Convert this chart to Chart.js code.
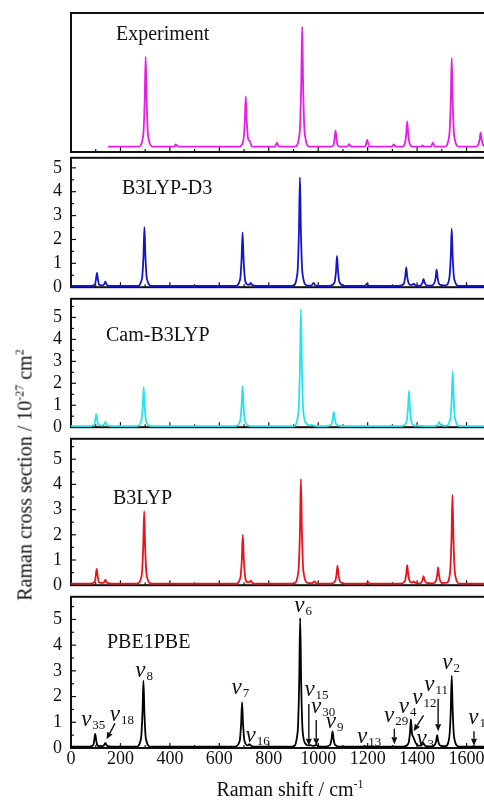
<!DOCTYPE html>
<html>
<head>
<meta charset="utf-8">
<script src="https://cdn.jsdelivr.net/npm/chart.js@4.4.0/dist/chart.umd.min.js"></script>
<style>
  html, body { margin: 0; padding: 0; background: #fff; overflow: hidden; }
  #wrap { position: relative; width: 484px; height: 803px; overflow: hidden; }
  canvas { position: absolute; left: 0; }
  .title { position: absolute; font-family: "Liberation Serif", "Times New Roman", serif; font-size: 20px; color: #111; white-space: nowrap; }
  .title sup { font-size: 12px; vertical-align: 8px; line-height: 0; }
  #ytitle { left: 25px; top: 475px; transform: translate(-50%, -50%) rotate(-90deg); }
  #xtitle { left: 290px; top: 789px; transform: translate(-50%, -50%); }
</style>
</head>
<body>
<div id="wrap">
  <canvas id="p0"></canvas>
  <canvas id="p1"></canvas>
  <canvas id="p2"></canvas>
  <canvas id="p3"></canvas>
  <canvas id="p4"></canvas>
  <div class="title" id="ytitle">Raman cross section / 10<sup>-27</sup> cm<sup>2</sup></div>
  <div class="title" id="xtitle">Raman shift / cm<sup>-1</sup></div>
</div>
<script>
// axis ticks
const xTickLabels = [0, 200, 400, 600, 800, 1000, 1200, 1400, 1600];
const xTicks = [0, 200, 400, 600, 800, 1000, 1200, 1400, 1600, 1800];
const xMinorTicks = [100, 300, 500, 700, 900, 1100, 1300, 1500, 1700];
const yTicks = [0, 1, 2, 3, 4, 5];
const yMinorTicks = [0.5, 1.5, 2.5, 3.5, 4.5, 5.5];

// Experiment (arbitrary units, no scale shown)
const expShift = [150,
  272, 292, 298, 302, 306, 312, 332,
  416, 424, 432,
  677, 697, 703, 707, 711, 717, 722, 732,
  825, 833, 841,
  905, 925, 931, 935, 939, 945, 965,
  1052, 1062, 1066, 1070, 1074, 1078, 1088,
  1117, 1125, 1133,
  1190, 1198, 1206,
  1298, 1306, 1314,
  1340, 1350, 1356, 1360, 1364, 1370, 1382,
  1416, 1422, 1428,
  1456, 1464, 1472,
  1510, 1530, 1536, 1540, 1544, 1550, 1570,
  1637, 1647, 1653, 1657, 1661, 1667, 1680,
  1800];
const expCross = [0,
  0, 0.09, 0.375, 0.75, 0.375, 0.09, 0,
  0, 0.02, 0,
  0, 0.05, 0.21, 0.42, 0.21, 0.06, 0.05, 0,
  0, 0.033, 0,
  0, 0.12, 0.5, 1.0, 0.5, 0.12, 0,
  0, 0.016, 0.066, 0.133, 0.066, 0.016, 0,
  0, 0.022, 0,
  0, 0.056, 0,
  0, 0.02, 0,
  0, 0.025, 0.105, 0.21, 0.105, 0.025, 0,
  0, 0.01, 0,
  0, 0.033, 0,
  0, 0.09, 0.37, 0.74, 0.37, 0.09, 0,
  0, 0.015, 0.06, 0.12, 0.06, 0.015, 0,
  0];

// B3LYP-D3
const d3Shift = [0,
  80, 97, 101, 105, 109, 113, 122,
  131, 135, 139, 143, 149, 165,
  267, 287, 293, 297, 301, 307, 327,
  664, 684, 690, 694, 698, 704, 712,
  721, 727, 733, 750,
  896, 916, 922, 926, 930, 936, 956,
  973, 981, 989, 1000,
  1046, 1066, 1072, 1076, 1080, 1086, 1106,
  1189, 1197, 1205,
  1326, 1346, 1352, 1356, 1360, 1366, 1376,
  1382, 1386, 1392, 1402,
  1414, 1422, 1426, 1430, 1438,
  1455, 1469, 1475, 1479, 1483, 1489, 1500,
  1515, 1530, 1536, 1540, 1544, 1550, 1570,
  1800];
const d3Cross = [0.05,
  0.05, 0.12, 0.33, 0.6, 0.33, 0.12, 0.08,
  0.09, 0.14, 0.23, 0.14, 0.07, 0.05,
  0.05, 0.35, 1.28, 2.51, 1.28, 0.35, 0.05,
  0.05, 0.32, 1.18, 2.3, 1.18, 0.32, 0.12,
  0.1, 0.18, 0.09, 0.05,
  0.05, 0.6, 2.33, 4.6, 2.33, 0.6, 0.07,
  0.07, 0.18, 0.07, 0.05,
  0.05, 0.2, 0.68, 1.31, 0.68, 0.2, 0.05,
  0.05, 0.15, 0.05,
  0.05, 0.14, 0.44, 0.83, 0.44, 0.16, 0.09,
  0.11, 0.15, 0.09, 0.06,
  0.07, 0.2, 0.35, 0.2, 0.08,
  0.06, 0.16, 0.39, 0.73, 0.39, 0.14, 0.08,
  0.08, 0.35, 1.25, 2.45, 1.25, 0.35, 0.05,
  0.05];

// Cam-B3LYP
const camShift = [0,
  77, 94, 98, 102, 106, 110, 120,
  131, 135, 139, 143, 149, 165,
  264, 284, 290, 294, 298, 304, 324,
  664, 684, 690, 694, 698, 704, 724,
  900, 920, 926, 930, 934, 940, 955,
  966, 974, 982, 995,
  1033, 1053, 1059, 1063, 1067, 1073, 1093,
  1337, 1357, 1363, 1367, 1371, 1377, 1390,
  1394, 1400, 1406,
  1470, 1481, 1485, 1489, 1493, 1499,
  1514, 1534, 1540, 1544, 1548, 1554, 1574,
  1800];
const camCross = [0.05,
  0.05, 0.12, 0.33, 0.61, 0.33, 0.12, 0.08,
  0.09, 0.15, 0.24, 0.15, 0.07, 0.05,
  0.05, 0.26, 0.94, 1.83, 0.94, 0.26, 0.05,
  0.05, 0.27, 0.97, 1.88, 0.97, 0.27, 0.05,
  0.05, 0.69, 2.71, 5.37, 2.71, 0.69, 0.13,
  0.08, 0.11, 0.07, 0.05,
  0.05, 0.13, 0.38, 0.7, 0.38, 0.13, 0.05,
  0.05, 0.24, 0.85, 1.65, 0.85, 0.24, 0.07,
  0.06, 0.08, 0.06,
  0.05, 0.09, 0.15, 0.24, 0.15, 0.08,
  0.06, 0.35, 1.3, 2.55, 1.3, 0.35, 0.05,
  0.05];

// B3LYP
const b3Shift = [0,
  79, 96, 100, 104, 108, 112, 121,
  131, 135, 139, 143, 149, 165,
  266, 286, 292, 296, 300, 306, 326,
  665, 685, 691, 695, 699, 705, 713,
  721, 727, 733, 750,
  900, 920, 926, 930, 934, 940, 960,
  976, 984, 992, 1002,
  1048, 1068, 1074, 1078, 1082, 1088, 1108,
  1193, 1201, 1209,
  1330, 1350, 1356, 1360, 1364, 1370, 1378,
  1382, 1386, 1392, 1404,
  1414, 1422, 1426, 1430, 1438,
  1460, 1475, 1481, 1485, 1489, 1495, 1506,
  1518, 1533, 1539, 1543, 1547, 1553, 1573,
  1800];
const b3Cross = [0.06,
  0.06, 0.13, 0.36, 0.65, 0.36, 0.13, 0.09,
  0.09, 0.14, 0.22, 0.14, 0.08, 0.06,
  0.06, 0.4, 1.5, 2.94, 1.5, 0.4, 0.06,
  0.06, 0.29, 1.03, 2.01, 1.03, 0.29, 0.12,
  0.11, 0.18, 0.1, 0.06,
  0.06, 0.56, 2.13, 4.21, 2.13, 0.56, 0.08,
  0.08, 0.15, 0.08, 0.06,
  0.06, 0.15, 0.42, 0.78, 0.42, 0.15, 0.06,
  0.06, 0.12, 0.06,
  0.06, 0.15, 0.43, 0.8, 0.43, 0.16, 0.1,
  0.12, 0.15, 0.1, 0.07,
  0.08, 0.21, 0.36, 0.21, 0.09,
  0.07, 0.15, 0.38, 0.71, 0.38, 0.14, 0.09,
  0.09, 0.48, 1.82, 3.58, 1.82, 0.48, 0.06,
  0.06];

// PBE1PBE
const pbeShift = [0,
  73, 90, 94, 98, 102, 106, 116,
  131, 135, 139, 143, 149, 165,
  263, 283, 289, 293, 297, 303, 323,
  662, 682, 688, 692, 696, 702, 712,
  716, 722, 728, 745,
  897, 917, 923, 927, 931, 937, 950,
  960, 968, 978,
  986, 992, 1000,
  1028, 1048, 1054, 1058, 1062, 1068, 1088,
  1180, 1188, 1196,
  1302, 1308, 1314,
  1345, 1365, 1371, 1375, 1379, 1386, 1394, 1404,
  1416, 1420, 1424, 1428, 1436,
  1456, 1471, 1477, 1481, 1485, 1491, 1505,
  1515, 1530, 1536, 1540, 1544, 1550, 1570,
  1622, 1630, 1638,
  1800];
const pbeCross = [0.05,
  0.05, 0.11, 0.3, 0.55, 0.3, 0.11, 0.07,
  0.08, 0.13, 0.2, 0.13, 0.07, 0.05,
  0.05, 0.36, 1.34, 2.62, 1.34, 0.36, 0.05,
  0.05, 0.26, 0.92, 1.78, 0.92, 0.26, 0.11,
  0.1, 0.15, 0.09, 0.05,
  0.05, 0.65, 2.55, 5.05, 2.55, 0.65, 0.15,
  0.1, 0.11, 0.08,
  0.09, 0.12, 0.06,
  0.05, 0.12, 0.35, 0.65, 0.35, 0.12, 0.05,
  0.05, 0.08, 0.05,
  0.05, 0.06, 0.05,
  0.05, 0.18, 0.58, 1.11, 0.6, 0.4, 0.2, 0.09,
  0.09, 0.14, 0.22, 0.14, 0.07,
  0.06, 0.11, 0.27, 0.5, 0.27, 0.11, 0.07,
  0.07, 0.4, 1.42, 2.8, 1.42, 0.4, 0.05,
  0.05, 0.07, 0.05,
  0.05];

// mode labels on the PBE1PBE panel (label centre, in data units)
const modeSub = ['35', '18', '8', '7', '16', '6', '15', '30', '9', '13', '29', '4', '12', '3', '11', '2', '10'];
const modeX = [90, 206, 296, 685, 755, 939, 993, 1020, 1066, 1206, 1315, 1362, 1429, 1433, 1477, 1538, 1656];
const modeY = [1.01, 1.21, 2.9, 2.27, 0.37, 5.46, 2.19, 1.52, 0.95, 0.35, 1.15, 1.52, 1.87, 0.27, 2.37, 3.24, 1.09];

// arrows on the PBE1PBE panel (tail -> head)
const arrowFromX = [178, 962, 992, 1308, 1426, 1485, 1630];
const arrowFromY = [0.96, 1.71, 1.09, 0.75, 1.27, 1.92, 0.65];
const arrowToX = [144, 962, 992, 1308, 1386, 1485, 1630];
const arrowToY = [0.34, 0.09, 0.1, 0.15, 0.65, 0.65, 0.09];

const SERIF = '"Liberation Serif", "Times New Roman", serif';
Chart.defaults.font.family = SERIF;
Chart.defaults.font.size = 18;
Chart.defaults.color = '#111';

const PAD = 14;
const PLOT_LEFT = 71;
const CANVAS_W = 516;

const panels = [
  { id: 'p0', top: 13, bottom: 152, yMin: -0.044, yMax: 1.114, shift: expShift, cross: expCross,
    color: '#e41ee4', name: 'Experiment', nameAt: [45, 22], showY: false },
  { id: 'p1', top: 152, bottom: 293, yMin: 0, yMax: 5.42, shift: d3Shift, cross: d3Cross,
    color: '#1414c8', name: 'B3LYP-D3', nameAt: [51, 31], showY: true },
  { id: 'p2', top: 293, bottom: 433, yMin: 0, yMax: 5.85, shift: camShift, cross: camCross,
    color: '#26e2ec', name: 'Cam-B3LYP', nameAt: [35, 37], showY: true },
  { id: 'p3', top: 433, bottom: 591, yMin: 0, yMax: 5.81, shift: b3Shift, cross: b3Cross,
    color: '#e8141c', name: 'B3LYP', nameAt: [42, 60], showY: true },
  { id: 'p4', top: 591, bottom: 748, yMin: 0, yMax: 5.88, shift: pbeShift, cross: pbeCross,
    color: '#000000', name: 'PBE1PBE', nameAt: [36, 46], showY: true, modes: true }
];

function drawNu(ctx, cx, cy, sub) {
  ctx.font = 'italic 23px ' + SERIF;
  const w1 = ctx.measureText('\u03bd').width;
  ctx.font = '13px ' + SERIF;
  const w2 = ctx.measureText(sub).width;
  const x0 = cx - (w1 + w2 + 1) / 2;
  ctx.textAlign = 'left';
  ctx.textBaseline = 'alphabetic';
  ctx.font = 'italic 23px ' + SERIF;
  ctx.fillText('\u03bd', x0, cy + 4);
  ctx.font = '13px ' + SERIF;
  ctx.fillText(sub, x0 + w1 + 1, cy + 7);
}

function drawArrow(ctx, x1, y1, x2, y2) {
  const ang = Math.atan2(y2 - y1, x2 - x1);
  const hl = 7, hw = 3;
  ctx.beginPath();
  ctx.moveTo(x1, y1);
  ctx.lineTo(x2 - hl * Math.cos(ang), y2 - hl * Math.sin(ang));
  ctx.stroke();
  ctx.beginPath();
  ctx.moveTo(x2, y2);
  ctx.lineTo(x2 - hl * Math.cos(ang) + hw * Math.sin(ang), y2 - hl * Math.sin(ang) - hw * Math.cos(ang));
  ctx.lineTo(x2 - hl * Math.cos(ang) - hw * Math.sin(ang), y2 - hl * Math.sin(ang) + hw * Math.cos(ang));
  ctx.closePath();
  ctx.fill();
}

// frame, inward ticks and panel texts
const panelDecor = {
  id: 'panelDecor',
  beforeDatasetsDraw(chart, args, opts) {
    const { ctx, chartArea: a, scales: { x, y } } = chart;
    ctx.save();
    ctx.strokeStyle = '#111';
    ctx.lineWidth = 1.2;
    const tick = (x1, y1, x2, y2) => { ctx.beginPath(); ctx.moveTo(x1, y1); ctx.lineTo(x2, y2); ctx.stroke(); };
    xTicks.forEach(v => { const px = x.getPixelForValue(v); tick(px, a.bottom, px, a.bottom - 5); });
    xMinorTicks.forEach(v => { const px = x.getPixelForValue(v); tick(px, a.bottom, px, a.bottom - 3); });
    if (opts.showY) {
      yTicks.forEach(v => { const py = y.getPixelForValue(v); tick(a.left, py, a.left + 5, py); });
      yMinorTicks.filter(v => v < y.max).forEach(v => { const py = y.getPixelForValue(v); tick(a.left, py, a.left + 3, py); });
    }
    ctx.lineWidth = 2;
    ctx.strokeRect(a.left, a.top, a.right - a.left, a.bottom - a.top);
    ctx.restore();
  },
  afterDatasetsDraw(chart, args, opts) {
    const { ctx, chartArea: a, scales: { x, y } } = chart;
    ctx.save();
    ctx.fillStyle = '#111';
    ctx.font = '20px ' + SERIF;
    ctx.textAlign = 'left';
    ctx.textBaseline = 'middle';
    ctx.fillText(opts.name, a.left + opts.nameAt[0], a.top + opts.nameAt[1]);
    if (opts.modes) {
      modeSub.forEach((s, i) => drawNu(ctx, x.getPixelForValue(modeX[i]), y.getPixelForValue(modeY[i]), s));
      ctx.strokeStyle = '#111';
      ctx.lineWidth = 1.4;
      arrowFromX.forEach((v, i) => drawArrow(ctx,
        x.getPixelForValue(v), y.getPixelForValue(arrowFromY[i]),
        x.getPixelForValue(arrowToX[i]), y.getPixelForValue(arrowToY[i])));
    }
    ctx.restore();
  }
};

panels.forEach((p, k) => {
  const isBottom = k === panels.length - 1;
  const xAxisH = isBottom ? 26 : 0;
  const c = document.getElementById(p.id);
  c.width = CANVAS_W;
  c.height = (p.bottom - p.top) + PAD * 2 + xAxisH;
  c.style.top = (p.top - PAD) + 'px';

  new Chart(c, {
    type: 'line',
    data: {
      datasets: [{
        data: p.shift.map((v, i) => ({ x: v, y: p.cross[i] })),
        borderColor: p.color,
        borderWidth: 1.8,
        pointRadius: 0,
        cubicInterpolationMode: 'monotone',
        fill: false
      }]
    },
    options: {
      responsive: false,
      animation: false,
      events: [],
      layout: { padding: { top: PAD, bottom: PAD, left: 0, right: 0 } },
      plugins: {
        legend: { display: false },
        tooltip: { enabled: false },
        panelDecor: { name: p.name, nameAt: p.nameAt, showY: p.showY, modes: !!p.modes }
      },
      scales: {
        x: {
          type: 'linear', min: 0, max: 1800,
          display: isBottom,
          grid: { display: false, drawTicks: false },
          border: { display: false },
          ticks: { padding: 0, maxRotation: 0, autoSkip: false, callback: v => String(v) },
          afterBuildTicks: s => { s.ticks = xTickLabels.map(v => ({ value: v })); },
          afterFit: s => { s.height = xAxisH; }
        },
        y: {
          type: 'linear', min: p.yMin, max: p.yMax,
          grid: { display: false, drawTicks: false },
          border: { display: false },
          ticks: { display: p.showY, padding: 9, autoSkip: false, callback: v => String(v) },
          afterBuildTicks: s => { s.ticks = yTicks.map(v => ({ value: v })); },
          afterFit: s => { s.width = PLOT_LEFT; }
        }
      }
    },
    plugins: [panelDecor]
  });
});
</script>
</body>
</html>
